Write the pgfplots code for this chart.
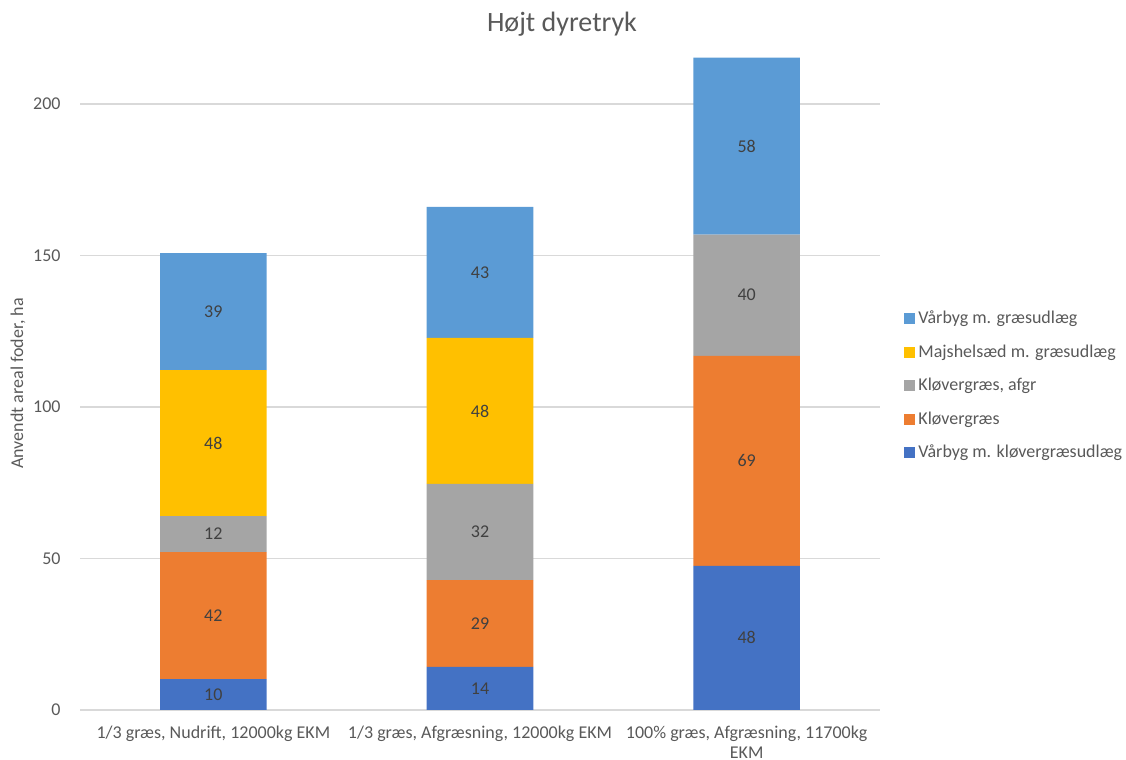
\documentclass[border=0pt]{standalone}
\usepackage{fontspec}
\setmainfont{Carlito}
\usepackage{pgfplots}
\usepackage{pgfplotstable}
\pgfplotsset{compat=1.18}
\definecolor{cA}{HTML}{4472C4}
\definecolor{cB}{HTML}{ED7D31}
\definecolor{cC}{HTML}{A5A5A5}
\definecolor{cD}{HTML}{FFC000}
\definecolor{cE}{HTML}{5B9BD5}
\definecolor{txt}{HTML}{595959}
\definecolor{lbl}{HTML}{404040}
\definecolor{grd}{HTML}{D9D9D9}
\pgfplotstableread{
x a b c d e
0 10.2 41.9 11.9 48.2 38.6
1 14.2 28.7 31.7 48.2 43.2
2 47.6 69.3 40.0 0 58.4
}\data
\newcommand{\fs}{\fontsize{9}{10.8}\selectfont}
\begin{document}
\begin{tikzpicture}
\useasboundingbox (0,0) rectangle (563pt,380pt);
\begin{axis}[
  at={(40pt,25pt)}, anchor=south west,
  scale only axis, width=400pt, height=326.5pt,
  ybar stacked, bar width=53.33pt,
  xmin=-0.5, xmax=2.5, ymin=0, ymax=215.5,
  xtick=data,
  xticklabels={{1/3 græs, Nudrift, 12000kg EKM},{1/3 græs, Afgræsning, 12000kg EKM},{100\% græs, Afgræsning, 11700kg\\EKM}},
  ytick={0,50,100,150,200},
  major tick length=0pt,
  axis line style={draw=none},
  ymajorgrids, grid style={grd, line width=0.6pt},
  /pgf/number format/assume math mode=true,
  tick label style={font=\fs, text=txt},
  yticklabel style={inner sep=0pt, xshift=-9.5pt},
  xticklabel style={inner sep=0pt, yshift=-8pt, align=center, font=\fontsize{9}{9.6}\selectfont},
  ylabel={Anvendt areal foder, ha},
  ylabel style={at={(axis description cs:-0.0775,0.5)}, anchor=center, font=\fs, text=txt},
  title={Højt dyretryk},
  title style={at={(axis description cs:0.6025,1.0322)}, anchor=center, font=\fontsize{14}{16}\selectfont, text=txt},
  point meta=explicit,
  nodes near coords={\pgfmathfloatifflags{\pgfplotspointmeta}{0}{}{\pgfmathprintnumber[fixed,precision=0]{\pgfplotspointmeta}}},
  every node near coord/.append style={anchor=center, font=\fs, text=lbl, inner sep=0pt},
  reverse legend,
  legend image code/.code={\fill[#1,draw=none] (0pt,-2.75pt) rectangle (5.5pt,2.75pt);},
  legend style={at={(axis description cs:1.0225,0.624)}, anchor=north west, draw=none, fill=none,
    font=\fs, text=txt, row sep=4.75pt,
    nodes={inner sep=1.5pt, text height=7pt, text depth=2pt}},
  legend cell align=left,
]
\addplot[fill=cA, draw=none] table[x=x, y=a, meta=a] {\data};
\addlegendentry{Vårbyg m. kløvergræsudlæg}
\addplot[fill=cB, draw=none] table[x=x, y=b, meta=b] {\data};
\addlegendentry{Kløvergræs}
\addplot[fill=cC, draw=none] table[x=x, y=c, meta=c] {\data};
\addlegendentry{Kløvergræs, afgr}
\addplot[fill=cD, draw=none] table[x=x, y=d, meta=d] {\data};
\addlegendentry{Majshelsæd m. græsudlæg}
\addplot[fill=cE, draw=none] table[x=x, y=e, meta=e] {\data};
\addlegendentry{Vårbyg m. græsudlæg}
\end{axis}
\end{tikzpicture}
\end{document}
